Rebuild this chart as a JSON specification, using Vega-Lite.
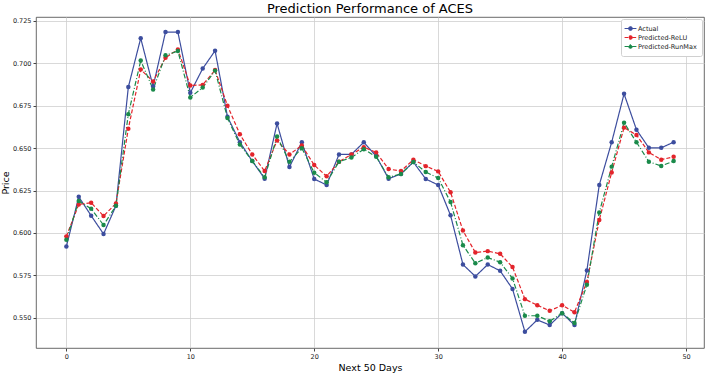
{
  "$schema": "https://vega.github.io/schema/vega-lite/v6.json",
  "width": 668,
  "height": 331,
  "autosize": {"type": "none"},
  "padding": {"left": 36, "top": 17, "right": 4, "bottom": 26},
  "background": "white",
  "title": {"text": "Prediction Performance of ACES", "fontSize": 13, "fontWeight": "normal", "font": "DejaVu Sans", "color": "#000", "offset": 1},
  "config": {
    "view": {"stroke": "#444", "strokeWidth": 0.8},
    "axis": {"labelFont": "DejaVu Sans", "titleFont": "DejaVu Sans", "labelFontSize": 6.5, "titleFontSize": 9.5, "titleFontWeight": "normal", "labelColor": "#222", "titleColor": "#000", "gridColor": "#cfcfcf", "gridWidth": 0.8, "tickColor": "#444", "tickSize": 3, "domain": false, "labelPadding": 2}
  },
  "datasets": {
    "prices": [
      {"day":0,"series":"Actual","price":0.592},{"day":1,"series":"Actual","price":0.6213},{"day":2,"series":"Actual","price":0.6102},{"day":3,"series":"Actual","price":0.5994},{"day":4,"series":"Actual","price":0.616},
      {"day":5,"series":"Actual","price":0.686},{"day":6,"series":"Actual","price":0.7148},{"day":7,"series":"Actual","price":0.6863},{"day":8,"series":"Actual","price":0.7184},{"day":9,"series":"Actual","price":0.7184},
      {"day":10,"series":"Actual","price":0.6826},{"day":11,"series":"Actual","price":0.6969},{"day":12,"series":"Actual","price":0.7074},{"day":13,"series":"Actual","price":0.6685},{"day":14,"series":"Actual","price":0.6535},
      {"day":15,"series":"Actual","price":0.6424},{"day":16,"series":"Actual","price":0.632},{"day":17,"series":"Actual","price":0.6645},{"day":18,"series":"Actual","price":0.6389},{"day":19,"series":"Actual","price":0.6535},
      {"day":20,"series":"Actual","price":0.6318},{"day":21,"series":"Actual","price":0.6283},{"day":22,"series":"Actual","price":0.6463},{"day":23,"series":"Actual","price":0.6463},{"day":24,"series":"Actual","price":0.6535},
      {"day":25,"series":"Actual","price":0.6453},{"day":26,"series":"Actual","price":0.632},{"day":27,"series":"Actual","price":0.6348},{"day":28,"series":"Actual","price":0.6418},{"day":29,"series":"Actual","price":0.6318},
      {"day":30,"series":"Actual","price":0.6283},{"day":31,"series":"Actual","price":0.6104},{"day":32,"series":"Actual","price":0.5814},{"day":33,"series":"Actual","price":0.5744},{"day":34,"series":"Actual","price":0.5814},
      {"day":35,"series":"Actual","price":0.5777},{"day":36,"series":"Actual","price":0.567},{"day":37,"series":"Actual","price":0.5418},{"day":38,"series":"Actual","price":0.5488},{"day":39,"series":"Actual","price":0.5457},
      {"day":40,"series":"Actual","price":0.5527},{"day":41,"series":"Actual","price":0.5457},{"day":42,"series":"Actual","price":0.5779},{"day":43,"series":"Actual","price":0.6283},{"day":44,"series":"Actual","price":0.6535},
      {"day":45,"series":"Actual","price":0.682},{"day":46,"series":"Actual","price":0.6609},{"day":47,"series":"Actual","price":0.6502},{"day":48,"series":"Actual","price":0.6502},{"day":49,"series":"Actual","price":0.6535},

      {"day":0,"series":"Predicted-ReLU","price":0.598},{"day":1,"series":"Predicted-ReLU","price":0.6168},{"day":2,"series":"Predicted-ReLU","price":0.6178},{"day":3,"series":"Predicted-ReLU","price":0.61},{"day":4,"series":"Predicted-ReLU","price":0.6174},
      {"day":5,"series":"Predicted-ReLU","price":0.6615},{"day":6,"series":"Predicted-ReLU","price":0.6963},{"day":7,"series":"Predicted-ReLU","price":0.6893},{"day":8,"series":"Predicted-ReLU","price":0.7033},{"day":9,"series":"Predicted-ReLU","price":0.7082},
      {"day":10,"series":"Predicted-ReLU","price":0.6869},{"day":11,"series":"Predicted-ReLU","price":0.6873},{"day":12,"series":"Predicted-ReLU","price":0.696},{"day":13,"series":"Predicted-ReLU","price":0.675},{"day":14,"series":"Predicted-ReLU","price":0.6582},
      {"day":15,"series":"Predicted-ReLU","price":0.6463},{"day":16,"series":"Predicted-ReLU","price":0.6365},{"day":17,"series":"Predicted-ReLU","price":0.6545},{"day":18,"series":"Predicted-ReLU","price":0.6463},{"day":19,"series":"Predicted-ReLU","price":0.6516},
      {"day":20,"series":"Predicted-ReLU","price":0.64},{"day":21,"series":"Predicted-ReLU","price":0.6334},{"day":22,"series":"Predicted-ReLU","price":0.642},{"day":23,"series":"Predicted-ReLU","price":0.6463},{"day":24,"series":"Predicted-ReLU","price":0.6506},
      {"day":25,"series":"Predicted-ReLU","price":0.6475},{"day":26,"series":"Predicted-ReLU","price":0.6377},{"day":27,"series":"Predicted-ReLU","price":0.6365},{"day":28,"series":"Predicted-ReLU","price":0.6432},{"day":29,"series":"Predicted-ReLU","price":0.6394},
      {"day":30,"series":"Predicted-ReLU","price":0.6363},{"day":31,"series":"Predicted-ReLU","price":0.624},{"day":32,"series":"Predicted-ReLU","price":0.6014},{"day":33,"series":"Predicted-ReLU","price":0.5885},{"day":34,"series":"Predicted-ReLU","price":0.5893},
      {"day":35,"series":"Predicted-ReLU","price":0.5877},{"day":36,"series":"Predicted-ReLU","price":0.5799},{"day":37,"series":"Predicted-ReLU","price":0.561},{"day":38,"series":"Predicted-ReLU","price":0.5574},{"day":39,"series":"Predicted-ReLU","price":0.5541},
      {"day":40,"series":"Predicted-ReLU","price":0.5574},{"day":41,"series":"Predicted-ReLU","price":0.5533},{"day":42,"series":"Predicted-ReLU","price":0.5711},{"day":43,"series":"Predicted-ReLU","price":0.6076},{"day":44,"series":"Predicted-ReLU","price":0.6357},
      {"day":45,"series":"Predicted-ReLU","price":0.6621},{"day":46,"series":"Predicted-ReLU","price":0.6578},{"day":47,"series":"Predicted-ReLU","price":0.6475},{"day":48,"series":"Predicted-ReLU","price":0.6432},{"day":49,"series":"Predicted-ReLU","price":0.6449},

      {"day":0,"series":"Predicted-RunMax","price":0.596},{"day":1,"series":"Predicted-RunMax","price":0.6188},{"day":2,"series":"Predicted-RunMax","price":0.6143},{"day":3,"series":"Predicted-RunMax","price":0.6047},{"day":4,"series":"Predicted-RunMax","price":0.616},
      {"day":5,"series":"Predicted-RunMax","price":0.67},{"day":6,"series":"Predicted-RunMax","price":0.7016},{"day":7,"series":"Predicted-RunMax","price":0.6846},{"day":8,"series":"Predicted-RunMax","price":0.7047},{"day":9,"series":"Predicted-RunMax","price":0.7072},
      {"day":10,"series":"Predicted-RunMax","price":0.6799},{"day":11,"series":"Predicted-RunMax","price":0.6857},{"day":12,"series":"Predicted-RunMax","price":0.6957},{"day":13,"series":"Predicted-RunMax","price":0.6678},{"day":14,"series":"Predicted-RunMax","price":0.6521},
      {"day":15,"series":"Predicted-RunMax","price":0.6424},{"day":16,"series":"Predicted-RunMax","price":0.6328},{"day":17,"series":"Predicted-RunMax","price":0.6568},{"day":18,"series":"Predicted-RunMax","price":0.642},{"day":19,"series":"Predicted-RunMax","price":0.65},
      {"day":20,"series":"Predicted-RunMax","price":0.6355},{"day":21,"series":"Predicted-RunMax","price":0.6299},{"day":22,"series":"Predicted-RunMax","price":0.642},{"day":23,"series":"Predicted-RunMax","price":0.6445},{"day":24,"series":"Predicted-RunMax","price":0.6494},
      {"day":25,"series":"Predicted-RunMax","price":0.6449},{"day":26,"series":"Predicted-RunMax","price":0.6328},{"day":27,"series":"Predicted-RunMax","price":0.6348},{"day":28,"series":"Predicted-RunMax","price":0.6418},{"day":29,"series":"Predicted-RunMax","price":0.6359},
      {"day":30,"series":"Predicted-RunMax","price":0.6324},{"day":31,"series":"Predicted-RunMax","price":0.6182},{"day":32,"series":"Predicted-RunMax","price":0.5928},{"day":33,"series":"Predicted-RunMax","price":0.5822},{"day":34,"series":"Predicted-RunMax","price":0.5855},
      {"day":35,"series":"Predicted-RunMax","price":0.5828},{"day":36,"series":"Predicted-RunMax","price":0.5732},{"day":37,"series":"Predicted-RunMax","price":0.5512},{"day":38,"series":"Predicted-RunMax","price":0.5512},{"day":39,"series":"Predicted-RunMax","price":0.548},
      {"day":40,"series":"Predicted-RunMax","price":0.5527},{"day":41,"series":"Predicted-RunMax","price":0.5469},{"day":42,"series":"Predicted-RunMax","price":0.5695},{"day":43,"series":"Predicted-RunMax","price":0.6121},{"day":44,"series":"Predicted-RunMax","price":0.6391},
      {"day":45,"series":"Predicted-RunMax","price":0.665},{"day":46,"series":"Predicted-RunMax","price":0.6535},{"day":47,"series":"Predicted-RunMax","price":0.642},{"day":48,"series":"Predicted-RunMax","price":0.6395},{"day":49,"series":"Predicted-RunMax","price":0.6424}
    ]
  },
  "data": {"name": "prices"},
  "encoding": {
    "x": {"field": "day", "type": "quantitative", "title": "Next 50 Days",
      "scale": {"domain": [-2.45, 51.45], "nice": false, "zero": false},
      "axis": {"values": [0, 10, 20, 30, 40, 50], "format": "d", "titlePadding": 3}},
    "y": {"field": "price", "type": "quantitative", "title": "Price",
      "scale": {"domain": [0.5322, 0.7273], "nice": false, "zero": false},
      "axis": {"values": [0.55, 0.575, 0.6, 0.625, 0.65, 0.675, 0.7, 0.725], "format": ".3f", "titlePadding": 2}},
    "color": {"field": "series", "type": "nominal",
      "scale": {"domain": ["Actual", "Predicted-ReLU", "Predicted-RunMax"], "range": ["#3c4d9e", "#e3242b", "#1a8a4a"]},
      "legend": {"title": null, "orient": "top-right", "offset": 2, "labelFont": "DejaVu Sans", "labelFontSize": 6.5, "labelColor": "#222", "labelOffset": 3,
        "symbolType": "M-1.6,0L-0.45,0M0.45,0L1.6,0M0.45,0A0.45,0.45,0,1,1,-0.45,0A0.45,0.45,0,1,1,0.45,0",
        "symbolSize": 55, "symbolStrokeWidth": 1.2, "rowPadding": 0, "padding": 5,
        "fillColor": "white", "strokeColor": "#d0d0d0", "cornerRadius": 2,
        "encode": {"symbols": {"update": {"fill": {"scale": "color", "field": "value"}, "fillOpacity": {"value": 1}}}}}},
    "strokeDash": {"field": "series", "type": "nominal",
      "scale": {"domain": ["Actual", "Predicted-ReLU", "Predicted-RunMax"], "range": [[1, 0], [4, 2], [5, 2, 1, 2]]},
      "legend": null}
  },
  "mark": {"type": "line", "strokeWidth": 1.2, "point": {"filled": true, "size": 20, "opacity": 1}}
}
